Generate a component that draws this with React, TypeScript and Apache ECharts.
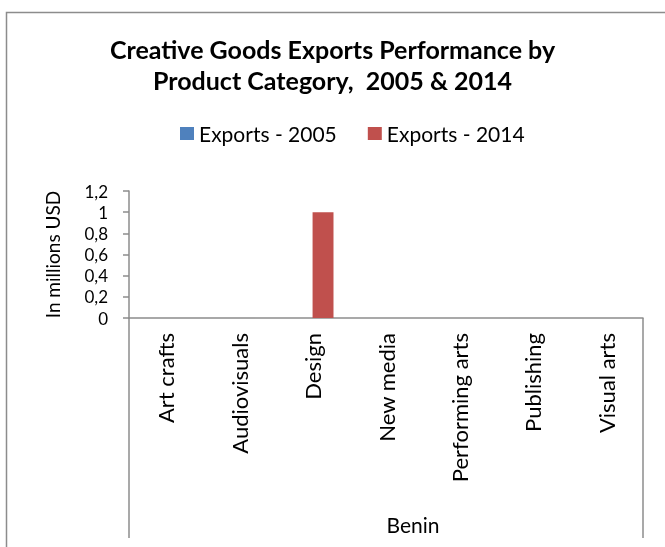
import React, { useEffect, useRef } from "react";
import * as echarts from "echarts";

const categories = ["Art crafts", "Audiovisuals", "Design", "New media", "Performing arts", "Publishing", "Visual arts"];
const exports2005 = [0, 0, 0, 0, 0, 0, 0];
const exports2014 = [0, 0, 1, 0, 0, 0, 0];
const groupLabels = ["Benin"];

const FONT = "Lato, 'Open Sans', sans-serif";
const GRAY = "#8c8c8c";

export default function App() {
  const ref = useRef<HTMLDivElement>(null);
  useEffect(() => {
    if (!ref.current) return;
    const chart = echarts.init(ref.current, null, { renderer: "svg" });
    chart.setOption({
      animation: false,
      textStyle: { fontFamily: FONT, color: "#000" },
      graphic: [
        {
          type: "rect",
          shape: { x: 6.5, y: 12.5, width: 700, height: 600 },
          style: { fill: "none", stroke: GRAY, lineWidth: 1.5 },
          silent: true,
        },
      ],
      title: {
        text: "Creative Goods Exports Performance by\nProduct Category,  2005 & 2014",
        left: "center",
        top: 28,
        textStyle: { fontFamily: FONT, fontSize: 25, fontWeight: "bold", color: "#000", lineHeight: 31 },
      },
      legend: {
        top: 118,
        left: 175,
        itemWidth: 14,
        itemHeight: 13,
        itemGap: 31,
        icon: "rect",
        textStyle: { fontFamily: FONT, fontSize: 21, color: "#000" },
        data: ["Exports - 2005", "Exports - 2014"],
      },
      grid: { left: 129, right: 22, top: 191, bottom: 229, containLabel: false },
      xAxis: [
        {
          type: "category",
          data: categories,
          position: "bottom",
          axisLine: { show: true, lineStyle: { color: GRAY, width: 1.5 } },
          axisTick: { show: false },
          axisLabel: { rotate: 90, fontFamily: FONT, fontSize: 22, color: "#000", margin: 15, interval: 0 },
        },
        {
          type: "category",
          data: groupLabels,
          position: "bottom",
          axisLine: { show: false },
          axisTick: { show: true, length: 220, lineStyle: { color: GRAY, width: 1.5 } },
          axisLabel: { fontFamily: FONT, fontSize: 21, color: "#000", margin: 196, padding: [0, 0, 0, 54] },
        },
      ],
      yAxis: {
        type: "value",
        min: 0,
        max: 1.2,
        interval: 0.2,
        name: "In millions USD",
        nameLocation: "middle",
        nameRotate: 90,
        nameGap: 67,
        nameTextStyle: { fontFamily: FONT, fontSize: 19, color: "#000" },
        axisLine: { show: true, lineStyle: { color: GRAY, width: 1.5 } },
        axisTick: { show: true, length: 6, lineStyle: { color: GRAY, width: 1.5 } },
        splitLine: { show: false },
        axisLabel: {
          fontFamily: FONT,
          fontSize: 17,
          lineHeight: 17,
          color: "#000",
          margin: 21,
          formatter: (v: number) => String(Math.round(v * 10) / 10).replace(".", ","),
        },
      },
      series: [
        {
          name: "Exports - 2005",
          type: "bar",
          data: exports2005,
          itemStyle: { color: "#4F81BD" },
          barGap: "0%",
          barCategoryGap: "43%",
        },
        {
          name: "Exports - 2014",
          type: "bar",
          data: exports2014,
          itemStyle: { color: "#C0504D" },
          barGap: "0%",
          barCategoryGap: "43%",
        },
      ],
    });
    return () => chart.dispose();
  }, []);
  return <div ref={ref} style={{ position: "fixed", left: 0, top: 0, width: 665, height: 547 }} />;
}
